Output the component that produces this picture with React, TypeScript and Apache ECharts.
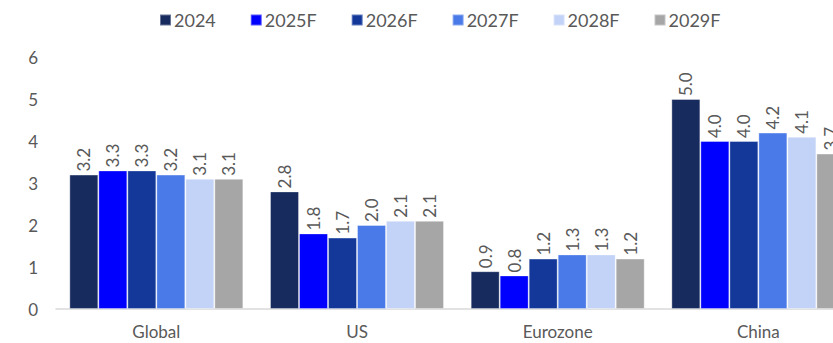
import React, { useEffect, useRef } from "react";
import * as echarts from "echarts";

const categories = ["Global", "US", "Eurozone", "China"];
const seriesNames = ["2024", "2025F", "2026F", "2027F", "2028F", "2029F"];
const colors = ["#172B5E", "#0000FF", "#13389A", "#4A7AE8", "#C3D3F7", "#A6A6A6"];
const v2024 = [3.2, 2.8, 0.9, 5.0];
const v2025 = [3.3, 1.8, 0.8, 4.0];
const v2026 = [3.3, 1.7, 1.2, 4.0];
const v2027 = [3.2, 2.0, 1.3, 4.2];
const v2028 = [3.1, 2.1, 1.3, 4.1];
const v2029 = [3.1, 2.1, 1.2, 3.7];
const seriesValues = [v2024, v2025, v2026, v2027, v2028, v2029];
const yTicks = { min: 0, max: 6, interval: 1 };

const FONT = "Lato, 'Open Sans', sans-serif";
const GREY = "#595959";

export default function App() {
  const ref = useRef<HTMLDivElement>(null);
  useEffect(() => {
    if (!ref.current) return;
    const chart = echarts.init(ref.current, null, { renderer: "svg" });
    chart.setOption({
      animation: false,
      textStyle: { fontFamily: FONT },
      legend: {
        data: seriesNames,
        left: 159,
        top: 11,
        padding: 0,
        itemWidth: 11,
        itemHeight: 11,
        itemGap: 34,
        icon: "rect",
        textStyle: { fontSize: 18, color: GREY, fontFamily: FONT, padding: [0, 0, 0, -2] },
      },
      grid: { left: 56, top: 57, bottom: 34, width: 802.7, containLabel: false },
      xAxis: {
        type: "category",
        data: categories,
        axisLine: { lineStyle: { color: "#D9D9D9", width: 1.5 } },
        axisTick: { show: false },
        axisLabel: { fontSize: 17, color: GREY, fontFamily: FONT, margin: 14 },
      },
      yAxis: {
        type: "value",
        min: yTicks.min,
        max: yTicks.max,
        interval: yTicks.interval,
        splitLine: { show: false },
        axisLine: { show: false },
        axisTick: { show: false },
        axisLabel: { fontSize: 17, color: GREY, fontFamily: FONT, margin: 18 },
      },
      series: seriesNames.map((name, i) => ({
        name,
        type: "bar",
        data: seriesValues[i],
        barWidth: 29,
        barGap: "0%",
        itemStyle: { color: colors[i], borderColor: "rgba(255,255,255,0.35)", borderWidth: 1 },
        label: {
          show: true,
          position: "top",
          rotate: 90,
          align: "left",
          verticalAlign: "middle",
          distance: 3,
          fontSize: 17,
          color: GREY,
          fontFamily: FONT,
          formatter: (p: any) => Number(p.value).toFixed(1),
        },
      })),
    });
    return () => chart.dispose();
  }, []);
  return (
    <div
      style={{
        position: "fixed",
        left: 0,
        top: 0,
        width: 833,
        height: 343,
        overflow: "hidden",
        background: "#fff",
      }}
    >
      <div ref={ref} style={{ position: "absolute", left: 0, top: 0, width: 900, height: 343 }} />
    </div>
  );
}
